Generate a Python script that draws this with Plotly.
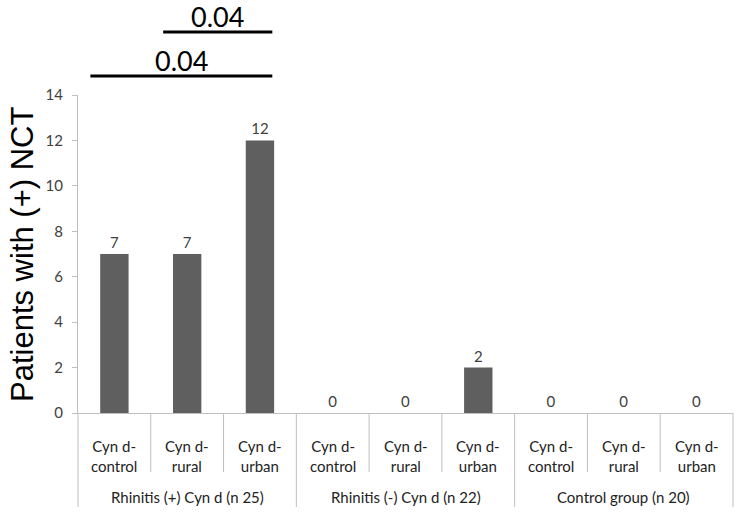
import plotly.graph_objects as go

groups = ["Rhinitis (+) Cyn d (n 25)", "Rhinitis (-) Cyn d (n 22)", "Control group (n 20)"]
subcats = ["Cyn d-<br>control", "Cyn d-<br>rural", "Cyn d-<br>urban"]
values = [7, 7, 12, 0, 0, 2, 0, 0, 0]
y_ticks = [0, 2, 4, 6, 8, 10, 12, 14]
brackets = [  # (from bar index, to bar index, label, level)
    (0, 2, "0.04", 0),
    (1, 2, "0.04", 1),
]

n = len(values)
xs = [i + 0.5 for i in range(n)]
TXT = "#404040"
LINE = "#bfbfbf"
FONT = "Lato, Carlito, Calibri, sans-serif"

fig = go.Figure(go.Bar(
    x=xs, y=values, width=0.39,
    marker=dict(color="#5f5f5f", line=dict(width=0)),
    text=[str(v) for v in values], textposition="outside",
    textfont=dict(family=FONT, size=15, color=TXT),
    cliponaxis=False,
))

shapes = []
annotations = []
H = 318.0  # plot height in px
def py(px_below):
    return -px_below / H

# category dividers
for i in range(n + 1):
    is_group = (i % len(subcats) == 0)
    shapes.append(dict(type="line", xref="paper", yref="paper",
                       x0=i / n, x1=i / n, y0=0, y1=py(94 if is_group else 59),
                       line=dict(color=LINE, width=1)))
# sub category labels
for i in range(n):
    annotations.append(dict(x=(i + 0.5) / n, y=0, xref="paper", yref="paper",
                            text=subcats[i % len(subcats)], showarrow=False,
                            xanchor="center", yanchor="top", yshift=-22,
                            font=dict(family=FONT, size=15, color="#222222")))
# group labels
for g, name in enumerate(groups):
    annotations.append(dict(x=(g * 3 + 1.5) / n, y=0, xref="paper", yref="paper",
                            text=name, showarrow=False, xanchor="center",
                            yanchor="middle", yshift=-84,
                            font=dict(family=FONT, size=15, color="#222222")))

# significance brackets
for a, b, lab, lvl in brackets:
    x0 = (a + 0.17) / n
    x1 = (b + 0.67) / n
    ypx = 337 if lvl == 0 else 381
    yp = ypx / H
    shapes.append(dict(type="line", xref="paper", yref="paper",
                       x0=x0, x1=x1, y0=yp, y1=yp,
                       line=dict(color="black", width=3)))
    annotations.append(dict(x=(x0 + x1) / 2, y=yp, xref="paper", yref="paper",
                            text=lab, showarrow=False, xanchor="center",
                            yanchor="bottom", yshift=-3,
                            font=dict(family=FONT, size=27, color="black")))

# y axis title
annotations.append(dict(x=0, y=0.5, xref="paper", yref="paper",
                        text="Patients with (+) NCT", textangle=-90, showarrow=False,
                        xanchor="center", yanchor="middle", xshift=-56,
                        font=dict(family="Liberation Sans, Arial, sans-serif", size=31, color="black")))

fig.update_layout(
    width=740, height=514,
    margin=dict(l=78, r=7, t=95, b=101),
    plot_bgcolor="white", paper_bgcolor="white",
    showlegend=False,
    shapes=shapes, annotations=annotations,
    xaxis=dict(range=[0, n], showticklabels=False, ticks="", showgrid=False,
               zeroline=False, showline=True, linecolor=LINE, linewidth=1, fixedrange=True),
    yaxis=dict(range=[0, 14], tickvals=y_ticks, ticks="outside", ticklen=5, tickcolor=LINE,
               showgrid=False, zeroline=False, showline=True, linecolor=LINE, linewidth=1,
               tickfont=dict(family=FONT, size=15, color=TXT), ticklabelstandoff=6),
)

fig.write_html("out.html", config={"displayModeBar": False},
               post_script="document.body.style.margin='0';document.body.style.overflow='hidden';")
